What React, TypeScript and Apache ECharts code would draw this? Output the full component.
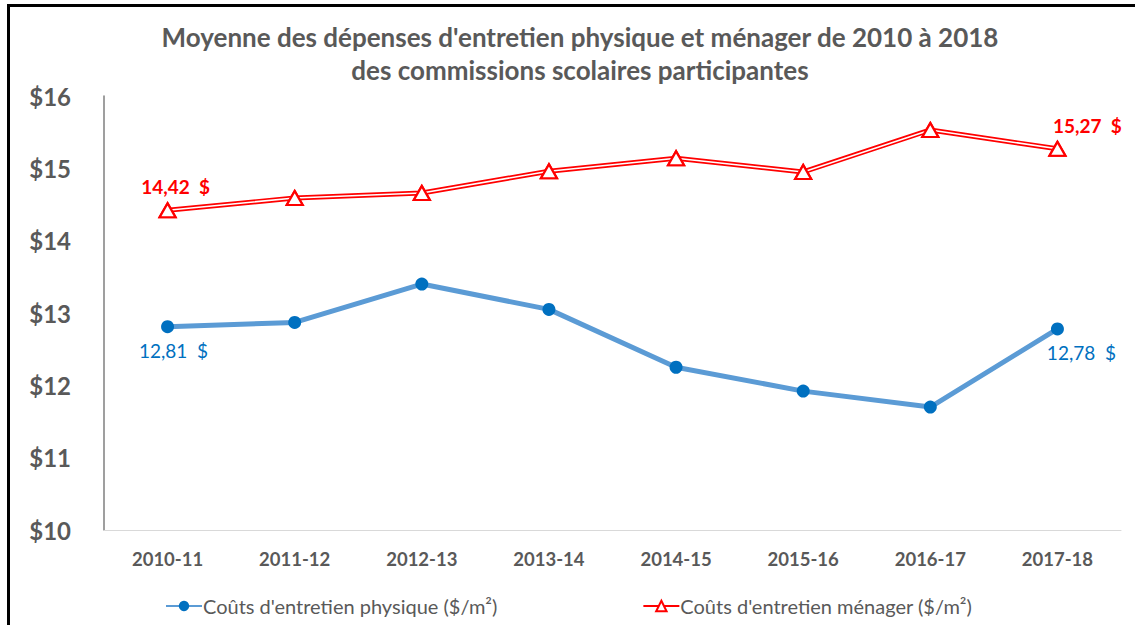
import React, { useEffect, useRef } from "react";
import * as echarts from "echarts";

const categories = ["2010-11", "2011-12", "2012-13", "2013-14", "2014-15", "2015-16", "2016-17", "2017-18"];
const physique = [12.81, 12.87, 13.4, 13.05, 12.25, 11.92, 11.7, 12.78];
const menager = [14.42, 14.59, 14.66, 14.96, 15.14, 14.95, 15.53, 15.27];
const yTicks = { min: 10, max: 16, interval: 1 };
const titleText = "Moyenne des dépenses d'entretien physique et ménager de 2010 à 2018\ndes commissions scolaires participantes";
const namePhysique = "Coûts d'entretien physique ($/m²)";
const nameMenager = "Coûts d'entretien ménager ($/m²)";

const FONT = "Lato, 'Noto Sans', sans-serif";
const GRAY = "#595959";

const fmt = (v: number) => v.toFixed(2).replace(".", ",") + "  $";

export default function App() {
  const ref = useRef<HTMLDivElement>(null);
  useEffect(() => {
    if (!ref.current) return;
    const chart = echarts.init(ref.current, undefined, { renderer: "svg" });
    const last = categories.length - 1;

    const physData = physique.map((v, i) => {
      if (i === 0 || i === last) {
        return {
          value: v,
          label: {
            show: true,
            position: "bottom",
            distance: 8,
            offset: i === 0 ? [6, 0] : [24, 0],
            formatter: fmt(v),
            color: "#0070C0",
            fontSize: 19,
            fontFamily: FONT,
          },
        };
      }
      return v;
    });

    const menMarkData = menager.map((v, i) => {
      if (i === 0 || i === last) {
        return {
          value: v,
          label: {
            show: true,
            position: "top",
            distance: 6,
            offset: i === 0 ? [8, 0] : [30, 0],
            formatter: fmt(v),
            color: "#FF0000",
            fontWeight: "bold",
            fontSize: 19,
            fontFamily: FONT,
          },
        };
      }
      return v;
    });

    chart.setOption({
      animation: false,
      backgroundColor: "#ffffff",
      title: {
        text: titleText,
        left: 575,
        textAlign: "center",
        top: 15,
        textStyle: {
          fontFamily: FONT,
          fontSize: 26,
          fontWeight: "bold",
          color: GRAY,
          lineHeight: 33,
        },
      },
      legend: {
        data: [namePhysique, nameMenager],
        left: 160,
        top: 591,
        itemWidth: 36,
        itemHeight: 13,
        itemGap: 145,
        textStyle: { fontFamily: FONT, fontSize: 20, color: GRAY, padding: [0, 0, 0, -4] },
      },
      grid: { left: 104, right: 14, top: 96, bottom: 95, containLabel: false },
      xAxis: {
        type: "category",
        data: categories,
        boundaryGap: true,
        axisLine: { lineStyle: { color: "#d9d9d9", width: 1 } },
        axisTick: { show: false },
        axisLabel: {
          margin: 19,
          fontFamily: FONT,
          fontSize: 18.5,
          fontWeight: "bold",
          color: GRAY,
        },
      },
      yAxis: {
        type: "value",
        min: yTicks.min,
        max: yTicks.max,
        interval: yTicks.interval,
        axisLine: { show: true, lineStyle: { color: "#7f7f7f", width: 1.5 } },
        axisTick: { show: false },
        splitLine: { show: false },
        axisLabel: {
          margin: 33,
          fontFamily: FONT,
          fontSize: 24,
          fontWeight: "bold",
          color: GRAY,
          formatter: (v: number) => "$" + v,
        },
      },
      series: [
        {
          name: namePhysique,
          type: "line",
          data: physData,
          z: 5,
          symbol: "circle",
          symbolSize: 13,
          lineStyle: { color: "#5B9BD5", width: 5 },
          itemStyle: { color: "#0070C0" },
        },
        {
          name: nameMenager,
          type: "line",
          data: menager,
          z: 2,
          symbol: "triangle",
          symbolSize: [16, 14],
          lineStyle: { color: "#FF0000", width: 5 },
          itemStyle: { color: "#ffffff", borderColor: "#FF0000", borderWidth: 2 },
        },
        {
          name: "_inner",
          type: "line",
          data: menager,
          z: 3,
          symbol: "none",
          silent: true,
          lineStyle: { color: "#ffffff", width: 1.6 },
        },
        {
          name: "_markers",
          type: "line",
          data: menMarkData,
          z: 4,
          symbol: "triangle",
          symbolSize: [16, 14],
          lineStyle: { width: 0, opacity: 0 },
          itemStyle: { color: "#ffffff", borderColor: "#FF0000", borderWidth: 2.2 },
        },
      ],
      graphic: [
        {
          type: "rect",
          shape: { x: 8.5, y: 5.5, width: 1300, height: 800 },
          style: { fill: "none", stroke: "#000000", lineWidth: 3 },
          silent: true,
        },
      ],
    });
    return () => chart.dispose();
  }, []);
  return (
    <div
      ref={ref}
      style={{ position: "absolute", left: 0, top: 0, width: 1135, height: 625 }}
    />
  );
}
